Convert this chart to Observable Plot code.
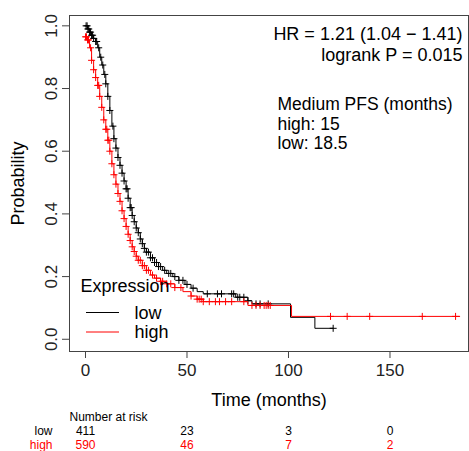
<!DOCTYPE html>
<html><head><meta charset="utf-8">
<script src="https://cdn.jsdelivr.net/npm/d3@7"></script>
<script src="https://cdn.jsdelivr.net/npm/@observablehq/plot@0.6"></script>
<style>body{margin:0;background:#fff} svg{display:block}</style>
</head><body><div id="chart"></div>
<script>
// Kaplan-Meier step points (time in months, survival probability)
const lowTimes = [0,1,2,3,4,5,6,7,8,9,10,11,12,13,14,15,16,17,18,19,20,21,22,23,24,25,26,27,28,29,30,32,34,36,38,40,43,46,49,52,55,58,74,80,82,101,113,122];
const lowSurv  = [1.0,0.99,0.98,0.97,0.96,0.95,0.93,0.90,0.875,0.845,0.815,0.775,0.73,0.68,0.64,0.61,0.58,0.555,0.53,0.505,0.48,0.45,0.42,0.395,0.375,0.355,0.34,0.32,0.305,0.29,0.278,0.26,0.245,0.232,0.22,0.21,0.2,0.188,0.175,0.163,0.152,0.145,0.134,0.123,0.113,0.07,0.035,0.035];
const highTimes = [0,1,2,3,4,5,6,7,8,9,10,11,12,13,14,15,16,17,18,19,20,21,22,23,24,25,26,28,30,32,34,37,40,44,48,52,55,58,80,101.5,184.5];
const highSurv  = [0.965,0.955,0.93,0.89,0.86,0.835,0.81,0.775,0.74,0.70,0.67,0.635,0.60,0.56,0.525,0.495,0.465,0.44,0.41,0.385,0.36,0.335,0.315,0.295,0.28,0.265,0.252,0.235,0.22,0.205,0.195,0.185,0.177,0.165,0.152,0.138,0.128,0.12,0.108,0.073,0.073];
// censoring times (+ marks)
const lowCensor = [0.3,0.8,1.2,1.6,2,2.5,3,3.5,4,5,5.5,6.5,7.5,8.5,9.5,10,11,12,13.5,14,15,16,17,18,19,20,20.5,21,22,22.5,23,24,25,26,27,28,29,30,31,32,33,34,35,36,37,39,41,42,44,46,48,50,53,60,65,67,72,73,75,76,78,80,84,86,90,122];
const highCensor = [0,0.5,1,1.5,2.5,3,4,5,6,6.5,7,8,9,10,10.5,11,11.5,12,13,14,15,16,17,18,19,20,21,22,23,24,25,26,27,28,29,30,31,33,35,37,38,40,42,44,47,52,55,56,57,58,61,64,66,69,72,78,82,84,86,88,89,90,91,120.7,128.9,140,165.9,182.3];
const groups = ["low","high"];
const groupColors = ["#000000","#ff0000"];
const xTicks = [0,50,100,150];
const yTicks = [0,0.2,0.4,0.6,0.8,1.0];
const riskLow = [411,23,3,0];
const riskHigh = [590,46,7,2];
const statLines = ["HR = 1.21 (1.04 − 1.41)","logrank P = 0.015"];
const medianLines = ["Medium PFS (months)","high: 15","low: 18.5"];

const steps = [
  ...lowTimes.map((t,i)=>({group:"low", time:t, surv:lowSurv[i]})),
  ...highTimes.map((t,i)=>({group:"high", time:t, surv:highSurv[i]}))
];
function survAt(times, surv, t){ let v = surv[0]; for (let i=0;i<times.length;i++){ if (times[i] <= t) v = surv[i]; } return v; }
const censors = [
  ...lowCensor.map(t=>({group:"low", time:t, surv:survAt(lowTimes,lowSurv,t)})),
  ...highCensor.map(t=>({group:"high", time:t, surv:survAt(highTimes,highSurv,t)}))
];

function legendLines(index, scales, values, dims){
  const g = d3.create("svg:g");
  const yb = dims.height - dims.marginBottom;
  [[-38.5, groupColors[0]], [-19, groupColors[1]]].forEach(([dy,c])=>{
    g.append("line").attr("x1", dims.marginLeft+17).attr("x2", dims.marginLeft+50)
     .attr("y1", yb+dy).attr("y2", yb+dy).attr("stroke", c).attr("stroke-width",1);
  });
  return g.node();
}

const T = (arr, opts) => Plot.text(arr, {text: d=>d, lineAnchor: "middle", fill: "#000", ...opts});

const chart = Plot.plot({
  width: 469, height: 451,
  marginLeft: 69, marginRight: 1, marginTop: 15, marginBottom: 100,
  style: {fontFamily: "'Liberation Sans', Arial, sans-serif", background: "#fff", color: "#222"},
  x: {domain: [-7.88, 188.67]},
  y: {domain: [-0.039, 1.033]},
  marks: [
    Plot.frame({stroke: "#444"}),
    Plot.axisX(xTicks, {tickSize: 7, tickPadding: 5, fontSize: 17, label: null, stroke: "#444"}),
    Plot.axisY(yTicks, {tickSize: 7, tickPadding: 6, tickRotate: -90, fontSize: 17, label: null, tickFormat: d => d.toFixed(1), stroke: "#444"}),
    Plot.line(steps.filter(d=>d.group==="low"), {x: "time", y: "surv", curve: "step-after", stroke: groupColors[0], strokeWidth: 1}),
    Plot.dot(censors.filter(d=>d.group==="low"), {x: "time", y: "surv", symbol: "plus", r: 2.4, stroke: groupColors[0], strokeWidth: 1}),
    Plot.line(steps.filter(d=>d.group==="high"), {x: "time", y: "surv", curve: "step-after", stroke: groupColors[1], strokeWidth: 1}),
    Plot.dot(censors.filter(d=>d.group==="high"), {x: "time", y: "surv", symbol: "plus", r: 2.4, stroke: groupColors[1], strokeWidth: 1}),
    // annotations
    T([statLines[0]], {frameAnchor: "top-right", dx: -6, dy: 18.5, textAnchor: "end", fontSize: 18}),
    T([statLines[1]], {frameAnchor: "top-right", dx: -6, dy: 39.5, textAnchor: "end", fontSize: 18}),
    T([medianLines[0]], {frameAnchor: "top-right", dx: -191, dy: 89, textAnchor: "start", fontSize: 17.5}),
    T([medianLines[1]], {frameAnchor: "top-right", dx: -191, dy: 108.5, textAnchor: "start", fontSize: 17.5}),
    T([medianLines[2]], {frameAnchor: "top-right", dx: -191, dy: 128, textAnchor: "start", fontSize: 17.5}),
    // legend
    T(["Expression"], {frameAnchor: "bottom-left", dx: 11, dy: -65, textAnchor: "start", fontSize: 18}),
    T([groups[0]], {frameAnchor: "bottom-left", dx: 65, dy: -38.5, textAnchor: "start", fontSize: 18}),
    T([groups[1]], {frameAnchor: "bottom-left", dx: 65, dy: -19, textAnchor: "start", fontSize: 18}),
    legendLines,
    // axis titles
    T(["Time (months)"], {frameAnchor: "bottom", dy: 48.5, textAnchor: "middle", fontSize: 18}),
    T(["Probability"], {frameAnchor: "left", dx: -51, rotate: -90, textAnchor: "middle", fontSize: 18}),
    // number at risk table
    T(["Number at risk"], {frameAnchor: "bottom-left", dx: 0, dy: 65.7, textAnchor: "start", fontSize: 12}),
    T([groups[0]], {frameAnchor: "bottom-left", dx: -17, dy: 79.7, textAnchor: "end", fontSize: 12, fill: groupColors[0]}),
    T([groups[1]], {frameAnchor: "bottom-left", dx: -17, dy: 94, textAnchor: "end", fontSize: 12, fill: groupColors[1]}),
    Plot.text(xTicks, {x: d=>d, text: (d,i)=>String(riskLow[i]), frameAnchor: "bottom", lineAnchor: "middle", dy: 79.7, fontSize: 12, fill: groupColors[0]}),
    Plot.text(xTicks, {x: d=>d, text: (d,i)=>String(riskHigh[i]), frameAnchor: "bottom", lineAnchor: "middle", dy: 94, fontSize: 12, fill: groupColors[1]})
  ]
});
document.getElementById("chart").append(chart);
</script>
</body></html>
